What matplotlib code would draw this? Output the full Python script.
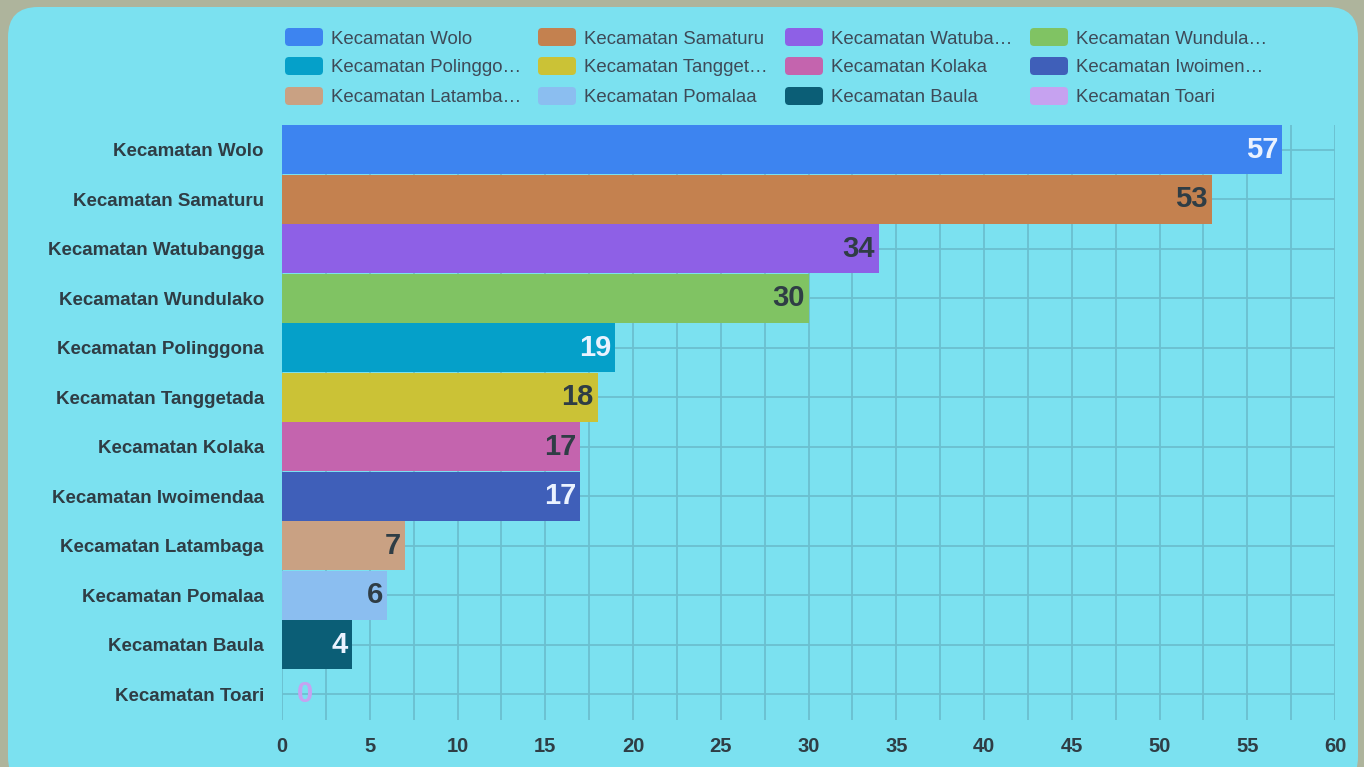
import matplotlib.pyplot as plt
import numpy as np
from matplotlib.patches import FancyBboxPatch

plt.rcParams['font.family'] = ['Liberation Sans', 'DejaVu Sans']

kecamatan = ['Kecamatan Wolo', 'Kecamatan Samaturu', 'Kecamatan Watubangga',
             'Kecamatan Wundulako', 'Kecamatan Polinggona', 'Kecamatan Tanggetada',
             'Kecamatan Kolaka', 'Kecamatan Iwoimendaa', 'Kecamatan Latambaga',
             'Kecamatan Pomalaa', 'Kecamatan Baula', 'Kecamatan Toari']
values = [57, 53, 34, 30, 19, 18, 17, 17, 7, 6, 4, 0]
legend_labels = ['Kecamatan Wolo', 'Kecamatan Samaturu', 'Kecamatan Watuba\u2026',
                 'Kecamatan Wundula\u2026', 'Kecamatan Polinggo\u2026', 'Kecamatan Tangget\u2026',
                 'Kecamatan Kolaka', 'Kecamatan Iwoimen\u2026', 'Kecamatan Latamba\u2026',
                 'Kecamatan Pomalaa', 'Kecamatan Baula', 'Kecamatan Toari']
bar_colors = ['#3D84F0', '#C4814F', '#8E60E6', '#80C363', '#05A0C9', '#CBC236',
              '#C464AE', '#3F5FB9', '#C9A183', '#8BBEF0', '#0B5E76', '#C6A2F0']
light_label = [True, False, False, False, True, False, False, True, False, False, True, False]

W, H = 1364, 767
fig = plt.figure(figsize=(W / 100, H / 100), dpi=100)
fig.patch.set_facecolor('#AEB49C')

# rounded cyan panel
panel = FancyBboxPatch((8 / W, -20 / H), 1350 / W, 780 / H,
                       boxstyle='round,pad=0,rounding_size=0.022',
                       transform=fig.transFigure, facecolor='#7BE1F0',
                       edgecolor='none', zorder=-5, mutation_aspect=W / H)
fig.patches.append(panel)

ax = fig.add_axes([282 / W, 1 - 720 / H, (1335 - 282) / W, (720 - 125) / H])
ax.set_facecolor('none')
ax.set_zorder(2)

y = np.arange(len(kecamatan))
bars = ax.barh(y, values, height=0.99, color=bar_colors, zorder=2)

ax.set_xlim(0, 60)
ax.set_ylim(len(kecamatan) - 0.5 + 0.02, -0.5)
ax.set_yticks(y)
ax.set_yticklabels(kecamatan, fontsize=13.5, fontweight='bold', color='#2F3D45')
ax.set_xticks(np.arange(0, 61, 5))
ax.set_xticks(np.arange(0, 61, 2.5), minor=True)
ax.tick_params(axis='x', labelsize=14.5, colors='#2F3D45', length=0, pad=12)
ax.tick_params(axis='y', length=0, pad=13)
ax.tick_params(which='minor', length=0)
for lbl in ax.get_xticklabels():
    lbl.set_fontweight('bold')

ax.grid(True, which='both', axis='x', color='#6BBFCF', linewidth=1.3, zorder=0)
ax.grid(True, axis='y', color='#6BBFCF', linewidth=1.3, zorder=0)
ax.set_axisbelow(True)
for s in ax.spines.values():
    s.set_visible(False)

for i, (v, c) in enumerate(zip(values, bar_colors)):
    if v == 0:
        ax.annotate(str(v), (v, i), xytext=(11, 0), textcoords='offset points',
                    ha='left', va='center', fontsize=21, fontweight='bold', color=c)
    else:
        col = '#EAF2FF' if light_label[i] else '#2F3D45'
        ax.annotate(str(v), (v, i), xytext=(-3, 0), textcoords='offset points',
                    ha='right', va='center', fontsize=21, fontweight='bold', color=col)

# legend, 4 columns x 3 rows
col_x = [285, 538, 785, 1030]
row_y = [37, 66, 96]
for k, (lab, c) in enumerate(zip(legend_labels, bar_colors)):
    r, cidx = divmod(k, 4)
    x0 = col_x[cidx]
    yc = row_y[r]
    fig.patches.append(FancyBboxPatch((x0 / W, 1 - (yc + 9) / H), 38 / W, 18 / H,
                                      boxstyle='round,pad=0,rounding_size=0.003',
                                      transform=fig.transFigure, facecolor=c,
                                      edgecolor='none', mutation_aspect=W / H))
    fig.text((x0 + 46) / W, 1 - (yc + 2) / H, lab, fontsize=13.4, color='#3E4A58',
             ha='left', va='center')

fig.savefig('out.png', dpi=100, facecolor=fig.get_facecolor())
